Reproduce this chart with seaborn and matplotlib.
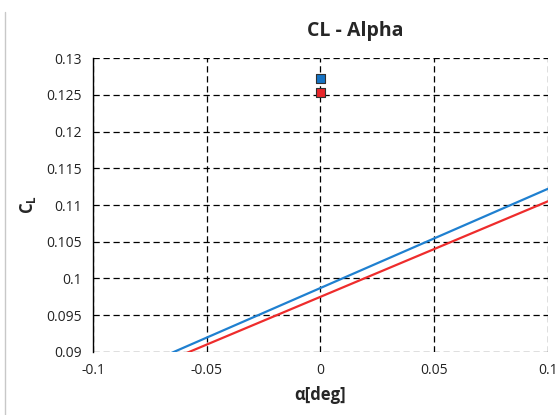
import matplotlib
matplotlib.use("Agg")
import matplotlib.pyplot as plt
import seaborn as sns
import pandas as pd
import numpy as np

# Linear CL(alpha) fits for two configurations
alpha_line = [-0.1, 0.1]
cl_blue_line = [0.0852, 0.1122]
cl_red_line = [0.0845, 0.1105]

# Single computed points at alpha = 0
alpha_pts = [0.0, 0.0]
cl_pts = [0.1272, 0.1253]
pt_colors = ["#1573c4", "#e8262a"]

x_ticks = [-0.1, -0.05, 0, 0.05, 0.1]
x_tick_labels = ["-0.1", "-0.05", "0", "0.05", "0.1"]
y_ticks = [0.09, 0.095, 0.1, 0.105, 0.11, 0.115, 0.12, 0.125, 0.13]
y_tick_labels = ["0.09", "0.095", "0.1", "0.105", "0.11", "0.115", "0.12", "0.125", "0.13"]

sns.set_style("white")
plt.rcParams["font.family"] = ["Open Sans", "DejaVu Sans"]

fig = plt.figure(figsize=(5.59, 4.15), dpi=100)
ax = fig.add_axes([0.1664, 0.152, 0.8136, 0.708])

df_b = pd.DataFrame({"alpha": alpha_line, "cl": cl_blue_line})
df_r = pd.DataFrame({"alpha": alpha_line, "cl": cl_red_line})
sns.lineplot(data=df_b, x="alpha", y="cl", ax=ax, color="#1f80d0", lw=1.6, zorder=3)
sns.lineplot(data=df_r, x="alpha", y="cl", ax=ax, color="#ee2c2c", lw=1.6, zorder=3)

df_p = pd.DataFrame({"alpha": alpha_pts, "cl": cl_pts, "c": ["b", "r"]})
sns.scatterplot(data=df_p, x="alpha", y="cl", hue="c", palette=pt_colors, marker="s",
                s=45, edgecolor="#303030", linewidth=0.8, ax=ax, legend=False, zorder=4)

ax.set_xlim(-0.1, 0.1)
ax.set_ylim(0.09, 0.13)
ax.set_xticks(x_ticks)
ax.set_xticklabels(x_tick_labels)
ax.set_yticks(y_ticks)
ax.set_yticklabels(y_tick_labels)
ax.tick_params(axis="both", length=0, labelsize=10, colors="#222222", pad=8)

ax.grid(True, color="black", linestyle=(0, (5, 3)), linewidth=0.9)
for side in ["top", "right", "bottom"]:
    ax.spines[side].set_visible(False)
ax.spines["left"].set_color("black")
ax.spines["left"].set_linewidth(1.0)

ax.set_xlabel("α[deg]", fontsize=12, fontweight="bold", labelpad=6)
ax.set_ylabel(r"C$_\mathregular{L}$", fontsize=12, fontweight="bold", labelpad=8)
ax.yaxis.set_label_coords(-0.12, 0.5)

fig.text(0.635, 0.925, "CL - Alpha", ha="center", va="center", fontsize=14, fontweight="bold")

# chart area border on the left
fig.add_artist(plt.Line2D([0.009, 0.009], [0.0, 0.97], color="#c8c8c8", lw=1.0))

fig.savefig("out.png", dpi=100)
